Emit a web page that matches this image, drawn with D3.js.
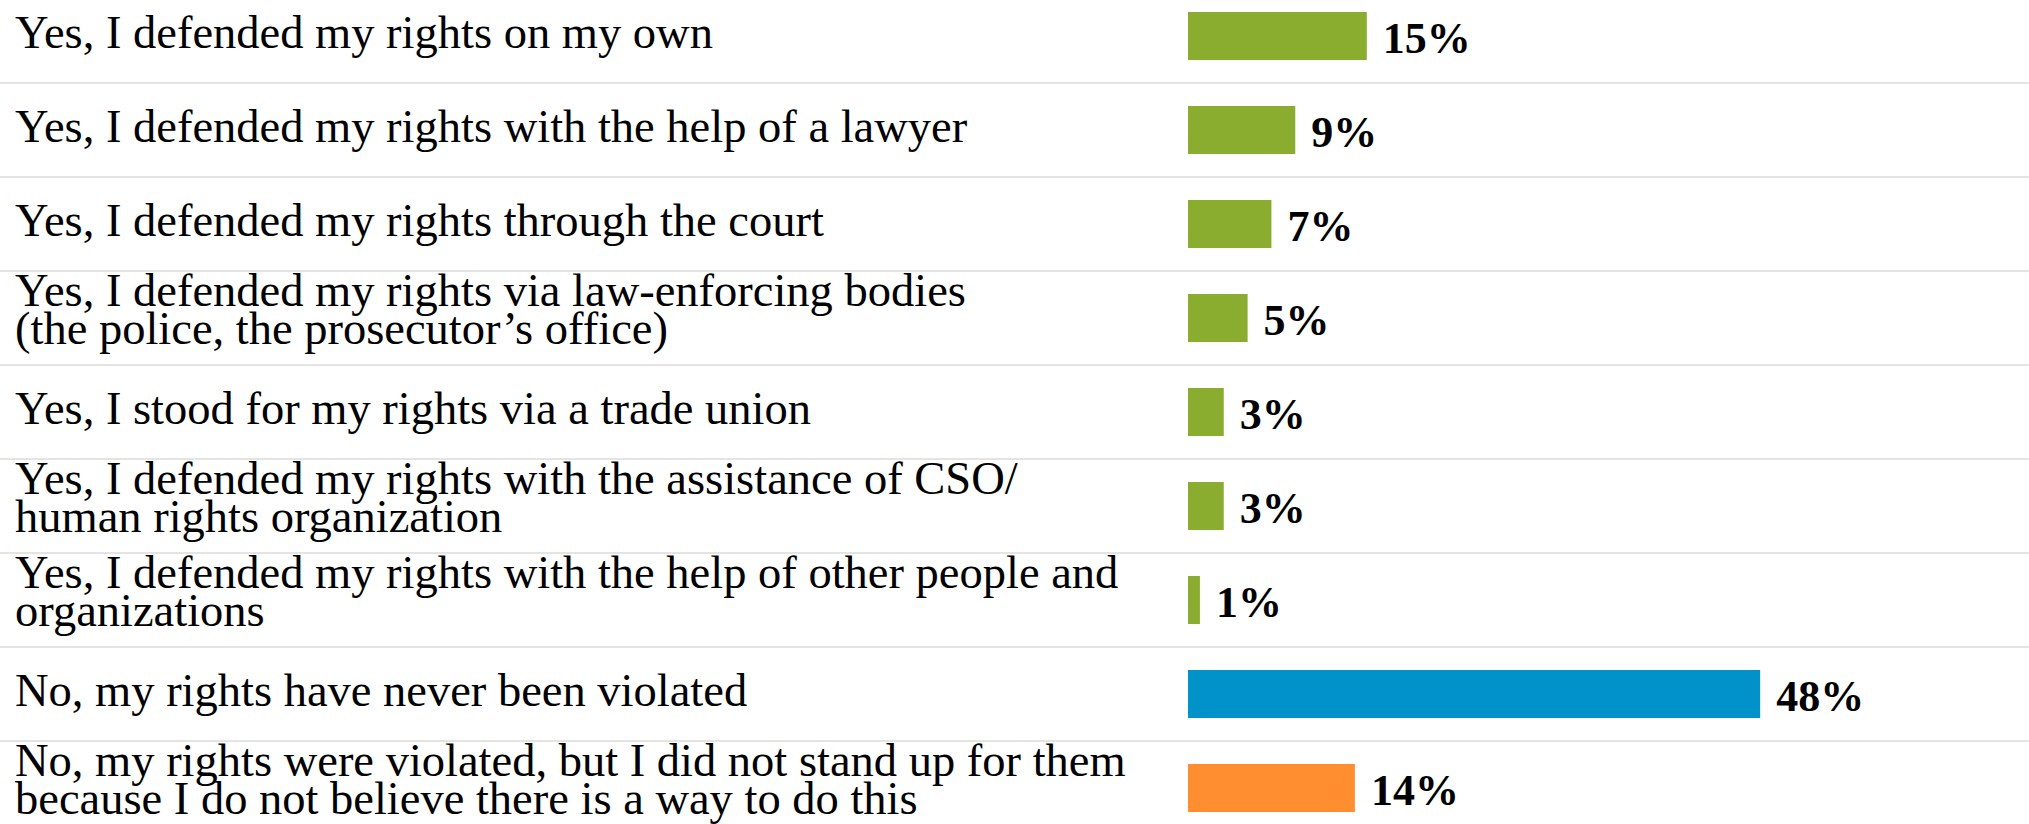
<!DOCTYPE html>
<html>
<head>
<meta charset="utf-8">
<script src="https://cdn.jsdelivr.net/npm/d3@7"></script>
<style>
  html, body { margin: 0; padding: 0; background: #fff; }
  svg { display: block; }
</style>
</head>
<body>
<div id="chart"></div>
<script>
// answers, one line per entry in the label (wrapped as in the original)
var categories = [
  ["Yes, I defended my rights on my own"],
  ["Yes, I defended my rights with the help of a lawyer"],
  ["Yes, I defended my rights through the court"],
  ["Yes, I defended my rights via law-enforcing bodies", "(the police, the prosecutor\u2019s office)"],
  ["Yes, I stood for my rights via a trade union"],
  ["Yes, I defended my rights with the assistance of CSO/", "human rights organization"],
  ["Yes, I defended my rights with the help of other people and", "organizations"],
  ["No, my rights have never been violated"],
  ["No, my rights were violated, but I did not stand up for them", "because I do not believe there is a way to do this"]
];
var values = [15, 9, 7, 5, 3, 3, 1, 48, 14];
var groups = ["yes", "yes", "yes", "yes", "yes", "yes", "yes", "never", "no"];

var colors = { yes: "#8aad2f", never: "#0192c9", no: "#fe8e2f" };

var width = 2029;
var height = 824;

var svg = d3.select("#chart")
  .append("svg")
  .attr("width", width)
  .attr("height", height);

var idx = d3.range(categories.length);

// rows: top row is cut off by the frame, so the band starts above 0
var y = d3.scaleBand()
  .domain(idx)
  .range([-11, -11 + 94 * categories.length]);

var x = d3.scaleLinear()
  .domain([0, 100])
  .range([1188, 1188 + 1192]);

var barH = 48;

// separators between rows
svg.append("g")
  .selectAll("line")
  .data(idx.slice(0, -1))
  .join("line")
  .attr("x1", 0)
  .attr("x2", width)
  .attr("y1", function (i) { return y(i) + y.bandwidth(); })
  .attr("y2", function (i) { return y(i) + y.bandwidth(); })
  .style("stroke", "#dedbd8")
  .style("stroke-width", 1.5);

// answer labels
var labels = svg.append("g")
  .selectAll("text")
  .data(idx)
  .join("text")
  .attr("x", 15)
  .style("font-family", "'Liberation Serif', serif")
  .style("font-size", "46.5px")
  .style("fill", "#000");

labels.each(function (i) {
  var lines = categories[i];
  var c = y(i) + y.bandwidth() / 2;
  var first = lines.length == 1 ? c + 12 : c - 12;
  d3.select(this).selectAll("tspan")
    .data(lines)
    .join("tspan")
    .attr("x", 15)
    .attr("y", function (d, k) { return first + k * 37.5; })
    .text(function (d) { return d; });
});

// bars
svg.append("g")
  .selectAll("rect")
  .data(idx)
  .join("rect")
  .attr("x", x(0))
  .attr("y", function (i) { return y(i) + (y.bandwidth() - barH) / 2; })
  .attr("width", function (i) { return x(values[i]) - x(0); })
  .attr("height", barH)
  .style("fill", function (i) { return colors[groups[i]]; });

// value labels
svg.append("g")
  .selectAll("text")
  .data(idx)
  .join("text")
  .attr("x", function (i) { return x(values[i]) + 16; })
  .attr("y", function (i) { return y(i) + y.bandwidth() / 2 + 17; })
  .style("font-family", "'Liberation Serif', serif")
  .style("font-weight", "bold")
  .style("font-size", "44px")
  .style("fill", "#000")
  .text(function (i) { return values[i] + "%"; });
</script>
</body>
</html>
